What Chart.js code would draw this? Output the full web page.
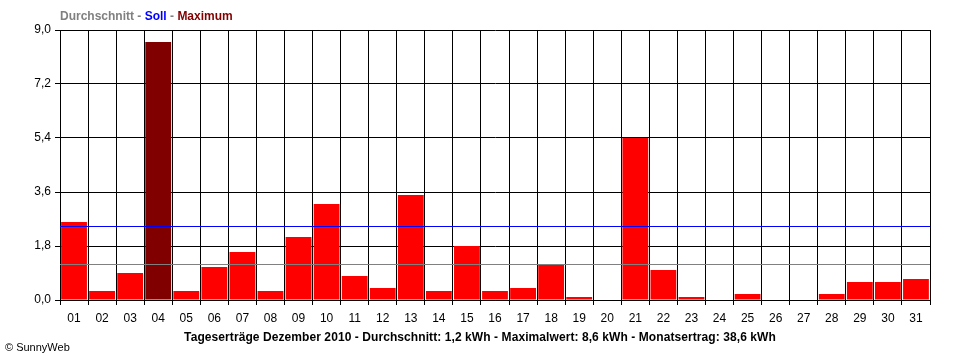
<!DOCTYPE html>
<html><head><meta charset="utf-8">
<script src="https://cdn.jsdelivr.net/npm/chart.js@4/dist/chart.umd.min.js"></script>
<style>
html,body{margin:0;padding:0;background:#fff;}
#wrap{position:relative;width:960px;height:360px;}
canvas{position:absolute;left:0;top:0;}
.t{position:absolute;font-family:"Liberation Sans",Arial,sans-serif;white-space:nowrap;}
</style></head><body>
<div id="wrap">
<canvas id="c" width="960" height="360"></canvas>
<div class="t" style="left:60px;top:9px;font-size:12px;font-weight:bold;"><span style="color:#808080">Durchschnitt</span><span style="color:#808080"> - </span><span style="color:#0000ff">Soll</span><span style="color:#808080"> - </span><span style="color:#800000">Maximum</span></div>
<div class="t" id="bt" style="left:0;width:960px;text-align:center;top:330px;font-size:12px;font-weight:bold;color:#000;letter-spacing:0.08px;">Tageserträge Dezember 2010 - Durchschnitt: 1,2 kWh - Maximalwert: 8,6 kWh - Monatsertrag: 38,6 kWh</div>
<div class="t" style="left:5px;top:341px;font-size:11px;color:#000;">© SunnyWeb</div>
</div>
<script>
const days = ["01","02","03","04","05","06","07","08","09","10","11","12","13","14","15","16","17","18","19","20","21","22","23","24","25","26","27","28","29","30","31"];
const yields = [2.6,0.3,0.9,8.6,0.3,1.1,1.6,0.3,2.1,3.2,0.8,0.4,3.5,0.3,1.8,0.3,0.4,1.2,0.1,0,5.4,1.0,0.1,0,0.2,0,0,0.2,0.6,0.6,0.7];
const averageValue = 1.2;
const targetValue = 2.46;
const yTicks = [0,1.8,3.6,5.4,7.2,9.0];

const maxVal = Math.max(...yields);
const colors = yields.map(v => v === maxVal ? '#800000' : '#ff0000');

const refLines = {
  id: 'refLines',
  afterDatasetsDraw(chart) {
    const {ctx, chartArea, scales} = chart;
    const draw = (v, col) => {
      const y = Math.round(scales.y.getPixelForValue(v)) + 0.5;
      ctx.save();
      ctx.strokeStyle = col; ctx.lineWidth = 1;
      ctx.beginPath(); ctx.moveTo(chartArea.left, y); ctx.lineTo(chartArea.right, y); ctx.stroke();
      ctx.restore();
    };
    draw(averageValue, '#808080');
    draw(targetValue, '#0000ff');
  }
};

new Chart(document.getElementById('c'), {
  type: 'bar',
  data: { labels: days, datasets: [{ data: yields, backgroundColor: colors, borderWidth: 0, categoryPercentage: 1, barPercentage: 0.92 }] },
  options: {
    responsive: false, animation: false, devicePixelRatio: 1,
    layout: { padding: { left: 0, top: 30, right: 30, bottom: 30 } },
    plugins: { legend: { display: false }, tooltip: { enabled: false } },
    scales: {
      x: {
        offset: true,
        grid: { offset: true, color: '#000', tickColor: '#000', tickLength: 5, lineWidth: 1 },
        border: { color: '#000' },
        ticks: { color: '#000', font: { family: 'Liberation Sans', size: 12 }, padding: 6, maxRotation: 0, autoSkip: false },
        afterFit(s) { s.height = 30; }
      },
      y: {
        min: 0, max: 9, z: 1,
        afterBuildTicks(s) { s.ticks = yTicks.map(v => ({ value: v })); },
        grid: { color: '#000', tickColor: '#000', tickLength: 5, lineWidth: 1 },
        border: { color: '#000' },
        ticks: { color: '#000', font: { family: 'Liberation Sans', size: 12 }, padding: 4,
          callback: v => Number(v).toFixed(1).replace('.', ',') },
        afterFit(s) { s.width = 60; }
      }
    }
  },
  plugins: [refLines]
});
</script>
</body></html>
